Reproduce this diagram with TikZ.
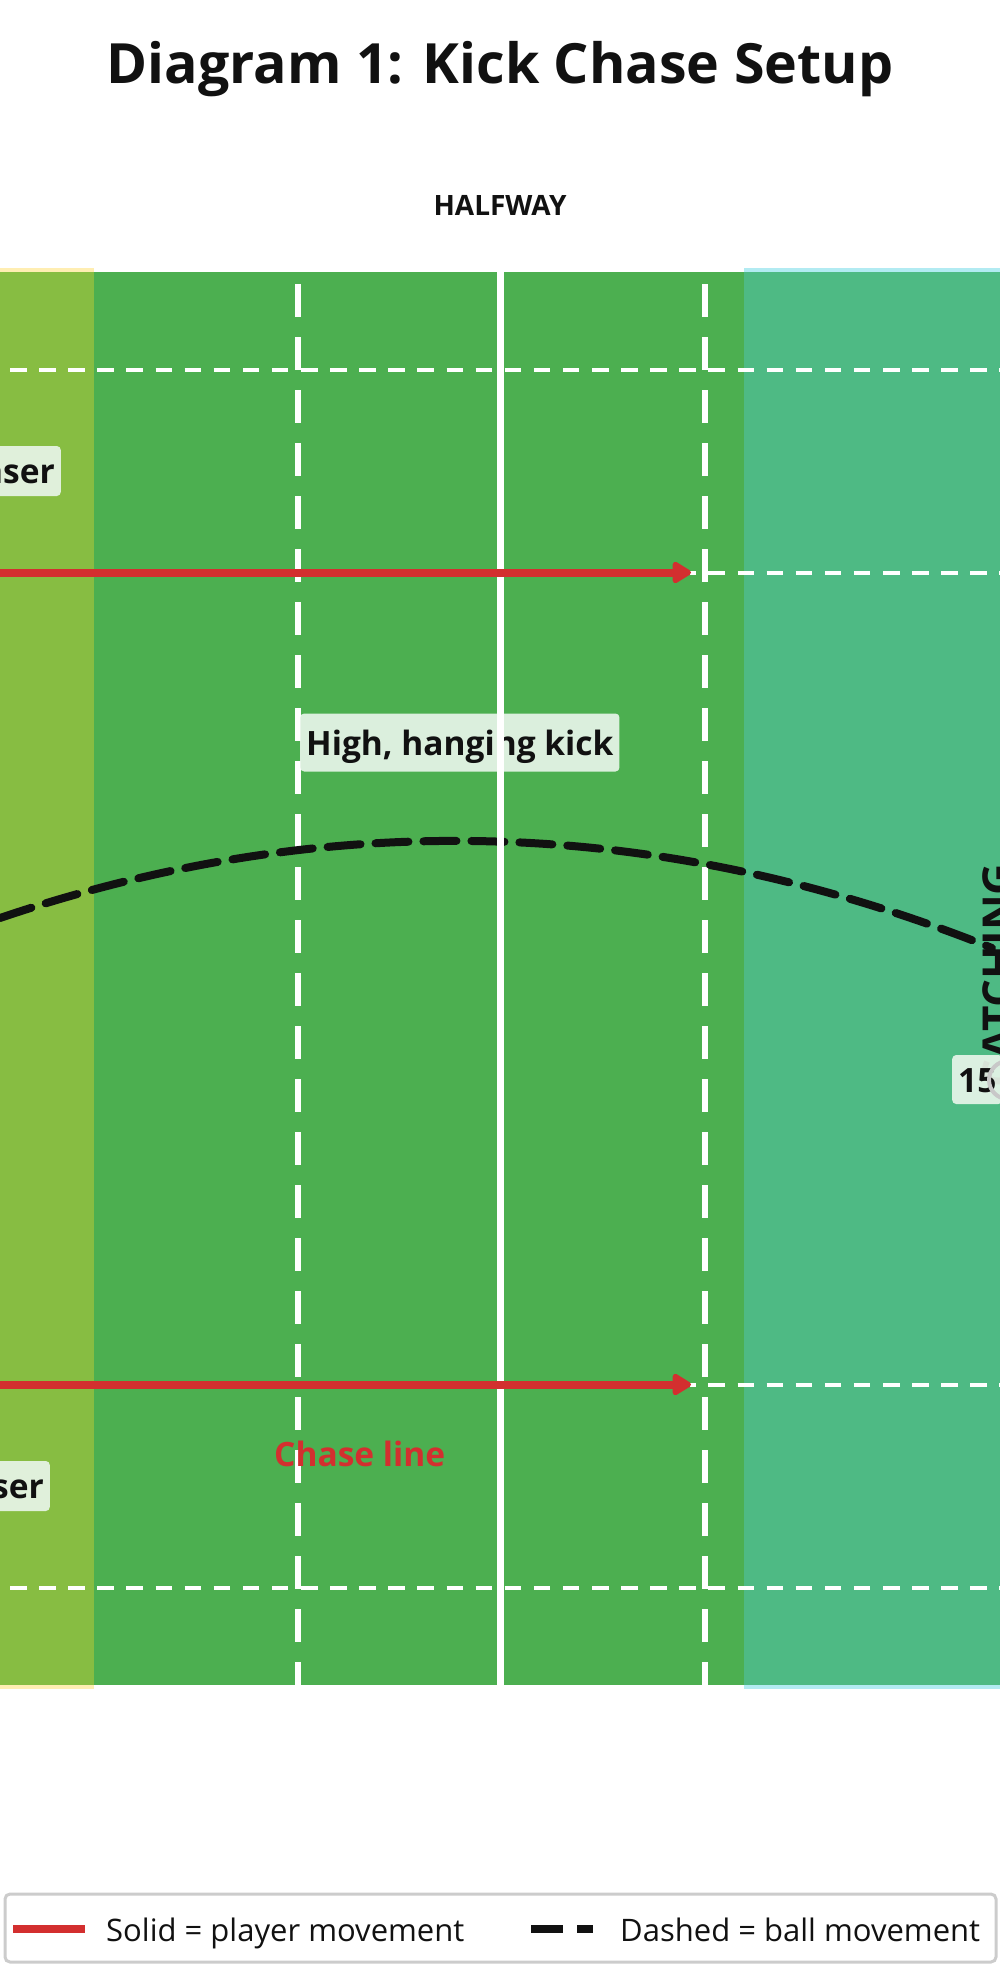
\documentclass[tikz,border=0pt]{standalone}
\usepackage{fontspec}
\setmainfont{Open Sans}
\usetikzlibrary{arrows.meta}

\begin{document}
\begin{tikzpicture}[x=1pt,y=1pt,yscale=-1,xscale=1,
  lbl/.style={fill={rgb, 255:red, 232; green, 245; blue, 233}, fill opacity=0.92, text opacity=1, rounded corners=4pt, inner xsep=6pt, text height=29pt, text depth=4pt, font=\fontsize{33.5}{39}\selectfont\bfseries, text={rgb, 255:red, 17; green, 17; blue, 17}},
  tenline/.style={color=white, line width=6pt, dash pattern=on 33pt off 20pt},
  fiveline/.style={color=white, line width=4pt, dash pattern=on 16.5pt off 12.6pt},
  chase/.style={color={rgb, 255:red, 211; green, 47; blue, 47}, line width=8pt, -{Triangle[length=21pt,width=24pt,round]}},
  ball/.style={color={rgb, 255:red, 17; green, 17; blue, 17}, line width=8pt, dash pattern=on 33pt off 15pt, line cap=round}]
\useasboundingbox (0,0) rectangle (1000,1987);
\clip (0,0) rectangle (1000,1987);

% Text Node
\node[anchor=base, font=\fontsize{55.5}{62}\selectfont\bfseries, text={rgb, 255:red, 17; green, 17; blue, 17}] (title) at (500,83) {Diagram 1: Kick Chase Setup};
% Text Node
\node[anchor=base, font=\fontsize{28}{32}\selectfont\bfseries, text={rgb, 255:red, 17; green, 17; blue, 17}] (halfway) at (500,215) {HALFWAY};

%Shape: Rectangle [field]
\fill [color={rgb, 255:red, 76; green, 175; blue, 80}] (0,272) rectangle (1000,1685);
%Shape: Rectangle [left zone]
\fill [color={rgb, 255:red, 255; green, 238; blue, 178}] (0,268) rectangle (94,1689);
\fill [color={rgb, 255:red, 135; green, 189; blue, 66}] (0,272) rectangle (94,1685);
%Shape: Rectangle [right zone]
\fill [color={rgb, 255:red, 178; green, 235; blue, 242}] (744,268) rectangle (1000,1689);
\fill [color={rgb, 255:red, 78; green, 186; blue, 132}] (744,272) rectangle (1000,1685);

%Shape: Lines [5m and 15m]
\draw [fiveline] (10,370) -- (1000,370);
\draw [fiveline] (10,572.5) -- (1000,572.5);
\draw [fiveline] (10,1384.5) -- (1000,1384.5);
\draw [fiveline] (10,1588) -- (1000,1588);
%Shape: Lines [10m]
\draw [tenline] (297.5,284) -- (297.5,1685);
\draw [tenline] (705,284) -- (705,1685);

%Shape: Curve [ball]
\coordinate (kickA) at (0,918);
\coordinate (kickB) at (992,948);
\draw [ball] (kickA) .. controls (330.7,806) and (661.3,816) .. (kickB);

% Text Node
\node[lbl, anchor=west, inner ysep=12.5pt] (kick) at (300,742.5) {High, hanging kick};

%Shape: Line [halfway]
\draw [color=white, line width=7pt] (500.5,272) -- (500.5,1685);

%Shape: Arrows [chase]
\coordinate (chaseA) at (0,572.5);
\coordinate (chaseB) at (691,572.5);
\coordinate (chaseC) at (0,1384.5);
\coordinate (chaseD) at (691,1384.5);
\draw [chase] (chaseA) -- (chaseB);
\draw [chase] (chaseC) -- (chaseD);

% Text Node
\node[lbl, anchor=east, inner ysep=8.5pt] (chaserTop) at (61,471) {Chaser};
% Text Node
\node[lbl, anchor=east, inner ysep=8.5pt] (chaserBot) at (50,1486) {Chaser};
% Text Node
\node[anchor=west, inner sep=0pt, text height=29pt, text depth=4pt, font=\fontsize{33.5}{39}\selectfont\bfseries, text={rgb, 255:red, 211; green, 47; blue, 47}] (chaseline) at (274,1454) {Chase line};

% Text Node
\node[rotate=90, anchor=north east, inner sep=0pt, font=\fontsize{44}{50}\selectfont\bfseries, text={rgb, 255:red, 17; green, 17; blue, 17}] (catching) at (982,863) {CATCHING};
% Text Node
\node[lbl, anchor=west, inner ysep=8pt] (fifteen) at (952,1079.5) {15};
%Shape: Circle [catcher]
\draw [color={rgb, 255:red, 200; green, 200; blue, 200}, line width=4pt] (1008,1080) circle (19);

%Shape: Rectangle [legend]
\draw [color={rgb, 255:red, 204; green, 204; blue, 204}, line width=3pt, fill=white, rounded corners=5pt] (5,1894) rectangle (996,1962);
\coordinate (legA) at (13,1929);
\coordinate (legB) at (85,1929);
\coordinate (legC) at (531,1929);
\coordinate (legD) at (593,1929);
\draw [color={rgb, 255:red, 211; green, 47; blue, 47}, line width=8pt] (legA) -- (legB);
\draw [color={rgb, 255:red, 17; green, 17; blue, 17}, line width=8pt, dash pattern=on 32pt off 14pt] (legC) -- (legD);
% Text Node
\node[anchor=base west, inner sep=0pt, font=\fontsize{31}{37}\selectfont, text={rgb, 255:red, 17; green, 17; blue, 17}] (legSolid) at (106,1941) {Solid = player movement};
% Text Node
\node[anchor=base west, inner sep=0pt, font=\fontsize{31}{37}\selectfont, text={rgb, 255:red, 17; green, 17; blue, 17}] (legDashed) at (620,1941) {Dashed = ball movement};

\end{tikzpicture}
\end{document}
